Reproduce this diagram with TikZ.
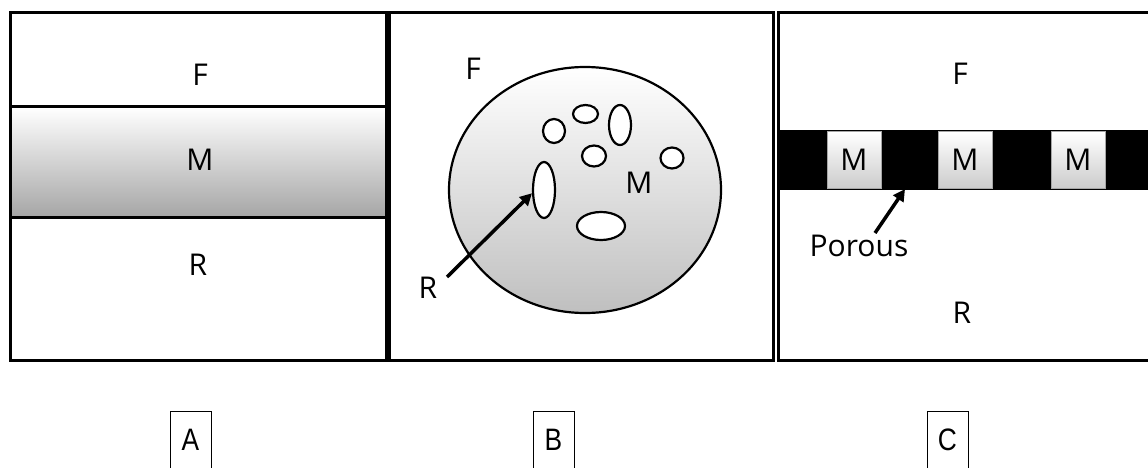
\documentclass[tikz,border=0pt]{standalone}
\usepackage{fontspec}
\setmainfont{Open Sans}
\newfontfamily\arialf{Liberation Sans}
\usetikzlibrary{shapes.geometric,arrows.meta}
\tikzset{
  panel/.style={draw=black,line width=3pt},
  lbl/.style={font=\fontsize{30}{34}\selectfont,inner sep=0pt},
  hole/.style={ellipse,draw=black,line width=2.2pt,fill=white,inner sep=0pt},
  arr/.style={line width=3.5pt,-{Triangle[length=12pt,width=12pt]}},
  mbox/.style={draw=black!35,line width=1pt,top color=white,bottom color=black!20,minimum width=54pt,minimum height=56pt,inner sep=0pt,font=\fontsize{30}{34}\selectfont},
  tagbox/.style={draw=black,line width=1pt},
  tag/.style={font=\arialf\fontsize{31}{34}\selectfont,inner sep=0pt,xscale=0.85}
}
\begin{document}
\begin{tikzpicture}[x=1pt,y=-1pt]
\useasboundingbox (0,0) rectangle (1148,468);
\clip (0,0) rectangle (1148,468);
% Panel A
\shade[top color=white,middle color=black!7,bottom color=black!35] (10,107) rectangle (386,217);
\draw[panel] (10,13) rectangle (386,360);
\draw[panel] (10,107) -- (386,107);
\draw[panel] (10,217) -- (386,217);
\node[lbl] (aF) at (200,75) {F};
\node[lbl] (aM) at (200,160) {M};
\node[lbl] (aR) at (198,265) {R};
% Panel B
\draw[panel] (389,13) rectangle (773,360);
\node[ellipse,draw=black,line width=2.2pt,minimum width=272pt,minimum height=246pt,inner sep=0pt,top color=white,middle color=black!5,bottom color=black!25] (blob) at (585,190) {};
\node[hole,minimum width=22pt,minimum height=24pt] (h1) at (554,131) {};
\node[hole,minimum width=25pt,minimum height=18pt] (h2) at (585.5,114) {};
\node[hole,minimum width=22pt,minimum height=40pt] (h3) at (620,125) {};
\node[hole,minimum width=24pt,minimum height=21pt] (h4) at (594,156) {};
\node[hole,minimum width=23pt,minimum height=21pt] (h5) at (672,158) {};
\node[hole,minimum width=22pt,minimum height=56pt] (h6) at (544,190) {};
\node[hole,minimum width=48pt,minimum height=28pt] (h7) at (601,226) {};
\node[lbl] (bF) at (473,69) {F};
\node[lbl] (bM) at (639,183) {M};
\node[lbl] (bR) at (428,288) {R};
\coordinate (rstart) at (447,277);
\draw[arr] (rstart) -- (h6.195);
% Panel C
\fill[black] (777,130) rectangle (1150,190);
\draw[panel] (778,13) rectangle (1152,360);
\node[mbox] (m1) at (854,160) {M};
\node[mbox] (m2) at (965,160) {M};
\node[mbox] (m3) at (1078,160) {M};
\node[lbl] (cF) at (960,74) {F};
\node[lbl] (cR) at (962,313) {R};
\node[lbl] (porous) at (859,246) {Porous};
\coordinate (pstart) at (875,233);
\coordinate (ptip) at (905,189);
\draw[arr] (pstart) -- (ptip);
% Tags
\draw[tagbox] (170,480) |- (211,411) -- (211,480);
\draw[tagbox] (533,480) |- (574,411) -- (574,480);
\draw[tagbox] (927,480) |- (968,411) -- (968,480);
\node[tag] (tA) at (190.5,440) {A};
\node[tag] (tB) at (553.5,440) {B};
\node[tag] (tC) at (947.5,440) {C};
\end{tikzpicture}
\end{document}
